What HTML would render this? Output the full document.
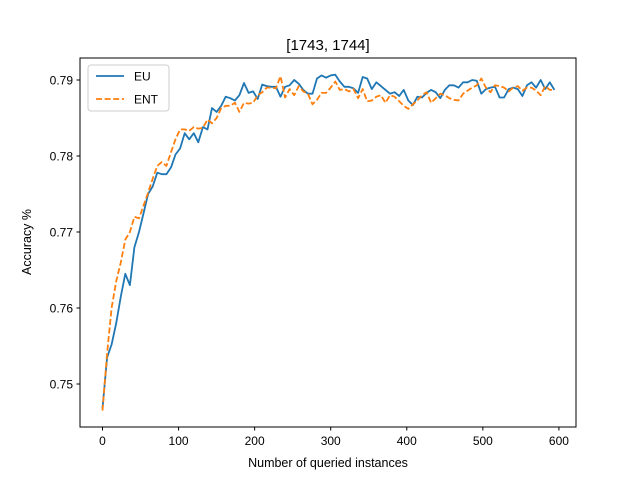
<!DOCTYPE html>
<html><head><meta charset="utf-8"><style>body{margin:0;background:#fff}svg{display:block;font-family:"Liberation Sans","DejaVu Sans",sans-serif}</style></head>
<body>
<svg id="chart" width="640" height="480">
<rect width="640" height="480" fill="#fff"/>
<text x="328" y="50" font-size="15" text-anchor="middle">[1743, 1744]</text>
<g id="plot"></g>
<rect x="80" y="58" width="496" height="369" fill="none" stroke="#000" stroke-width="1"/>
<text x="328" y="467" font-size="12.5" text-anchor="middle">Number of queried instances</text>
<text transform="translate(31,242) rotate(-90)" font-size="12.5" text-anchor="middle">Accuracy %</text>
<g>
<rect x="88" y="65" width="81" height="46" rx="3" fill="#fff" fill-opacity="0.8" stroke="#ccc"/>
<line x1="96" y1="76" x2="124" y2="76" stroke="#1f77b4" stroke-width="1.8"/>
<text x="134" y="80.5" font-size="12">EU</text>
<line x1="96" y1="99" x2="124" y2="99" stroke="#ff7f0e" stroke-width="1.8" stroke-dasharray="6,2.6"/>
<text x="134" y="103.5" font-size="12">ENT</text>
</g>
</svg>
<script>
const xTicks=[0,100,200,300,400,500,600];
const yTicks=[0.75,0.76,0.77,0.78,0.79];
const step=6;
const euValues=[0.7468,0.7535,0.7552,0.7580,0.7615,0.7645,0.7630,0.7680,0.7700,0.7725,0.7750,0.7760,0.7778,0.7776,0.7776,0.7785,0.7802,0.7810,0.7830,0.7822,0.7830,0.7818,0.7838,0.7835,0.7863,0.7858,0.7866,0.7878,0.7876,0.7873,0.7880,0.7896,0.7883,0.7885,0.7875,0.7894,0.7892,0.7891,0.7891,0.7878,0.7891,0.7893,0.7900,0.7895,0.7887,0.7882,0.7882,0.7902,0.7906,0.7903,0.7906,0.7907,0.7898,0.7891,0.7891,0.7889,0.7883,0.7904,0.7902,0.7888,0.7897,0.7892,0.7887,0.7882,0.7884,0.7879,0.7887,0.7873,0.7867,0.7878,0.7877,0.7883,0.7887,0.7884,0.7876,0.7887,0.7893,0.7893,0.7890,0.7897,0.7897,0.7900,0.7899,0.7882,0.7888,0.7890,0.7891,0.7877,0.7877,0.7888,0.7890,0.7888,0.7879,0.7893,0.7897,0.7890,0.7900,0.7888,0.7897,0.7887];
const entValues=[0.7465,0.7540,0.7600,0.7635,0.7660,0.7690,0.7700,0.7720,0.7718,0.7735,0.7752,0.7770,0.7787,0.7792,0.7787,0.7805,0.7822,0.7835,0.7835,0.7833,0.7838,0.7836,0.7837,0.7848,0.7843,0.7850,0.7863,0.7866,0.7866,0.7870,0.7858,0.7870,0.7869,0.7870,0.7880,0.7884,0.7890,0.7890,0.7889,0.7905,0.7877,0.7888,0.7880,0.7892,0.7885,0.7882,0.7868,0.7874,0.7883,0.7883,0.7890,0.7898,0.7887,0.7888,0.7885,0.7888,0.7876,0.7888,0.7872,0.7873,0.7878,0.7880,0.7870,0.7880,0.7878,0.7872,0.7866,0.7862,0.7868,0.7873,0.7880,0.7884,0.7870,0.7876,0.7882,0.7880,0.7876,0.7874,0.7873,0.7882,0.7886,0.7890,0.7893,0.7902,0.7890,0.7884,0.7893,0.7892,0.7890,0.7885,0.7890,0.7892,0.7886,0.7890,0.7890,0.7886,0.7880,0.7892,0.7887,0.7887];
const NS='http://www.w3.org/2000/svg';
const xs=v=>102.5+v*0.7607;
const ys=v=>80+(0.79-v)*7600;
const svg=document.getElementById('chart');
const plot=document.getElementById('plot');
function mk(t,a,p){const e=document.createElementNS(NS,t);for(const k in a)e.setAttribute(k,a[k]);(p||svg).appendChild(e);return e;}
xTicks.forEach(t=>{
  const l=mk('line',{x1:xs(t),x2:xs(t),y1:427,y2:430.5,stroke:'#000'});
  
  
  const tx=mk('text',{x:xs(t),y:445,'font-size':12,'text-anchor':'middle'});tx.textContent=t;
  
  
});
yTicks.forEach(t=>{
  const l=mk('line',{x1:76.5,x2:80,y1:ys(t),y2:ys(t),stroke:'#000'});
  
  
  const tx=mk('text',{x:73,y:ys(t)+4.5,'font-size':12,'text-anchor':'end'});tx.textContent=t.toFixed(2);
  
  
});
function line(vals,color,dash,name){
  const d=vals.map((v,i)=>(i?'L':'M')+xs(i*step).toFixed(1)+','+ys(v).toFixed(1)).join('');
  const p=mk('path',{d:d,fill:'none',stroke:color,'stroke-width':1.8,'stroke-linejoin':'round'},plot);
  if(dash)p.setAttribute('stroke-dasharray',dash);
  
  
}
line(euValues,'#1f77b4',null,'eu-line');
line(entValues,'#ff7f0e','6,2.6','ent-line');
</script>
</body></html>
